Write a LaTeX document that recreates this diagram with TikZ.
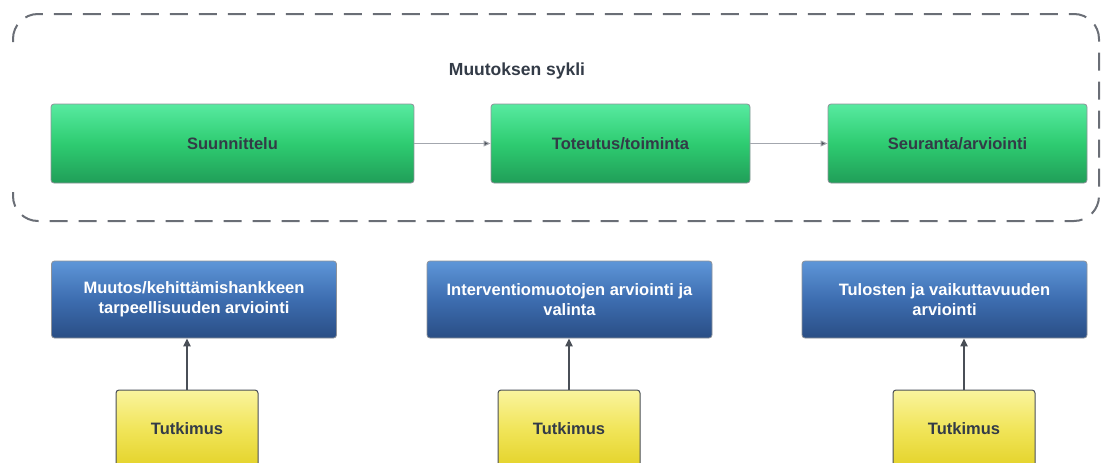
\documentclass[tikz,border=0pt]{standalone}
\usepackage{fontspec}
\setmainfont{Liberation Sans}
\usetikzlibrary{arrows.meta}
\definecolor{gtop}{HTML}{57EAA0}
\definecolor{gmid}{HTML}{2ECC71}
\definecolor{gbot}{HTML}{209E58}
\definecolor{btop}{HTML}{5E96D8}
\definecolor{bmid}{HTML}{3D6DB0}
\definecolor{bbot}{HTML}{2A4E85}
\definecolor{ytop}{HTML}{FAF49E}
\definecolor{ymid}{HTML}{F1E55A}
\definecolor{ybot}{HTML}{E4D32A}
\definecolor{txtdark}{HTML}{333B47}
\definecolor{dashgray}{HTML}{6A6E76}
\definecolor{linegray}{HTML}{A3A7AE}
\definecolor{arrowdark}{HTML}{4A4F57}
\definecolor{boxedge}{HTML}{8E9299}
\tikzset{
  basebox/.style={rectangle, rounded corners=3pt, draw=boxedge, line width=0.8pt,
    font=\bfseries\fontsize{16.5}{20}\selectfont, align=center, inner sep=0pt},
  greenbox/.style={basebox, top color=gtop, bottom color=gbot, middle color=gmid,
    text=txtdark, minimum height=79pt},
  bluebox/.style={basebox, top color=btop, bottom color=bbot, middle color=bmid,
    text=white, minimum width=285pt, minimum height=77pt},
  yellowbox/.style={basebox, top color=ytop, bottom color=ybot, middle color=ymid,
    text=txtdark, minimum width=142pt, minimum height=77pt, draw=arrowdark, line width=1pt},
  flowarrow/.style={draw=linegray, line width=1pt, -{Triangle[length=7pt,width=6pt,fill=arrowdark]}},
  uparrow/.style={draw=arrowdark, line width=2pt, -{Triangle[length=8pt,width=7pt]}},
  cycleborder/.style={draw=dashgray, line width=2pt, dash pattern=on 18pt off 11pt, rounded corners=25pt}
}
\begin{document}
\begin{tikzpicture}[x=1pt,y=-1pt]
\useasboundingbox (0,0) rectangle (1101,463);
\clip (0,0) rectangle (1101,463);
% dashed container with gap on the left side
\draw[cycleborder] (13,42) -- (13,14) -- (1099,14) -- (1099,221) -- (13,221) -- (13,192);
\node[font=\bfseries\fontsize{17.5}{20}\selectfont, text=txtdark] (title) at (517,71) {Muutoksen sykli};
\node[greenbox, minimum width=363pt] (plan) at (232.5,143.5) {Suunnittelu};
\node[greenbox, minimum width=259pt] (impl) at (620.5,143.5) {Toteutus/toiminta};
\node[greenbox, minimum width=259pt] (eval) at (957.5,143.5) {Seuranta/arviointi};
\draw[flowarrow] (plan) -- (impl);
\draw[flowarrow] (impl) -- (eval);
\node[bluebox] (need) at (194,299.5) {Muutos/kehittämishankkeen\\tarpeellisuuden arviointi};
\node[bluebox] (interv) at (569.5,299.5) {Interventiomuotojen arviointi ja\\valinta};
\node[bluebox] (result) at (944.5,299.5) {Tulosten ja vaikuttavuuden\\arviointi};
\node[yellowbox] (r1) at (187,428.5) {Tutkimus};
\node[yellowbox] (r2) at (569,428.5) {Tutkimus};
\node[yellowbox] (r3) at (964,428.5) {Tutkimus};
\draw[uparrow] (r1.north) -- (r1.north |- need.south);
\draw[uparrow] (r2.north) -- (r2.north |- interv.south);
\draw[uparrow] (r3.north) -- (r3.north |- result.south);
\end{tikzpicture}
\end{document}
